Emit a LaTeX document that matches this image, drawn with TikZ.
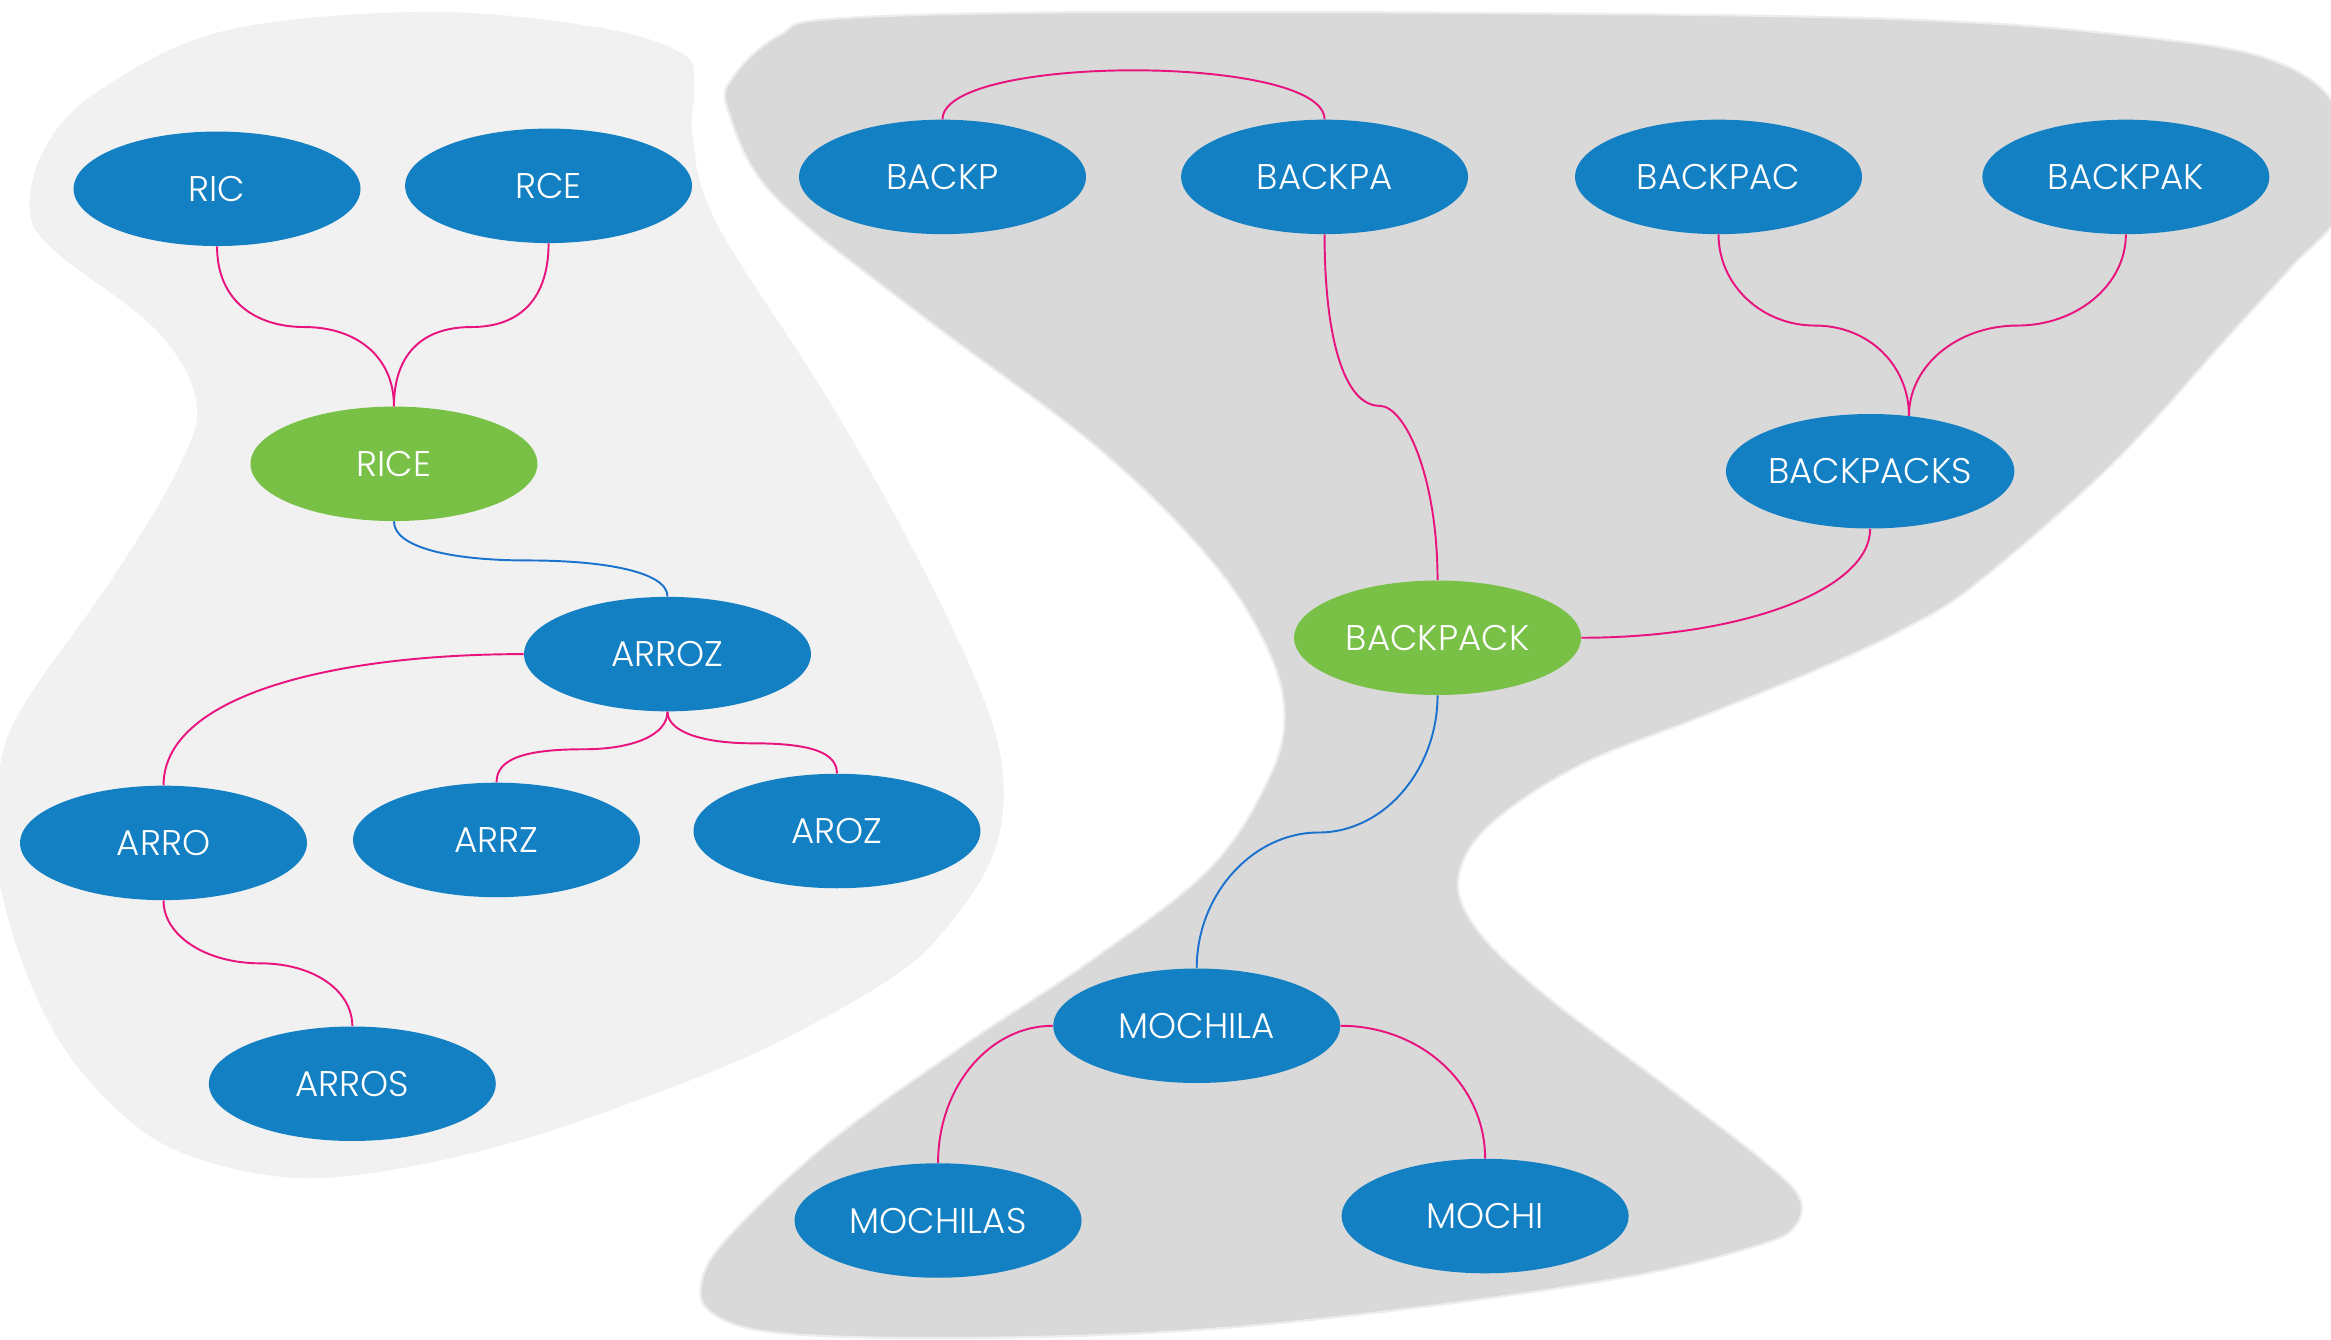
\documentclass[tikz,border=0pt]{standalone}
\usepackage{fontspec}
\newfontfamily\lbl{Poppins Light}
\usetikzlibrary{shapes.geometric}
\definecolor{nodeblue}{HTML}{1380C3}
\definecolor{rootgreen}{HTML}{78C046}
\definecolor{linkpink}{HTML}{E8137F}
\definecolor{linkblue}{HTML}{1A72CF}
\definecolor{paleblob}{HTML}{F1F1F1}
\definecolor{greyblob}{HTML}{D9D9D9}
\definecolor{blobrim}{HTML}{EDEDED}
\tikzset{
  word/.style={ellipse, fill=nodeblue, draw=none, minimum width=193pt,
    minimum height=77pt, inner sep=0pt, text=white,
    font=\lbl\fontsize{24}{28}\selectfont},
  rootword/.style={word, fill=rootgreen},
  link/.style={draw=linkpink, line width=1.3pt},
  tie/.style={draw=linkblue, line width=1.3pt}
}
\begin{document}
\begin{tikzpicture}[x=1pt,y=-1pt]
\useasboundingbox (0,0) rectangle (1568,901);

% background regions
\begin{scope}
\clip (0,0) rectangle (1568,901);
\fill[paleblob] plot[smooth cycle, tension=0.6] coordinates {
  (285,8) (400,18) (459,36) (467,58) (466,92) (482,150) (558,270)
  (617,375) (662,471) (675,527) (668,575) (640,620) (601,657)
  (515,705) (429,740) (343,769) (257,788) (193,792) (129,778)
  (86,753) (43,705) (13,642) (-3,575) (0,515) (18,471) (75,390)
  (120,315) (132,270) (105,222) (36,168) (20,141) (30,100) (65,62)
  (150,21)};
\filldraw[fill=greyblob, draw=blobrim, line width=1.5pt]
  plot[smooth cycle, tension=0.6] coordinates {
  (524,24) (570,12) (800,8) (1250,12) (1450,26) (1537,44) (1575,80)
  (1575,140) (1541,180) (1501,224) (1421,312) (1330,392) (1281,423)
  (1221,451) (1142,483) (1062,515) (1002,555) (981,591) (994,626)
  (1040,670) (1120,730) (1185,780) (1210,805) (1208,824) (1185,837)
  (1100,858) (950,880) (800,895) (650,900) (527,897) (480,884)
  (472,862) (491,831) (557,769) (647,704) (737,644) (813,585)
  (852,527) (864,482) (852,435) (813,375) (737,300) (617,210)
  (521,132) (490,75) (493,52)};
\end{scope}

% rice cluster
\node[word] (ric) at (146,127) {RIC};
\node[word] (rce) at (369,125) {RCE};
\node[rootword] (rice) at (265,312) {RICE};
\node[word] (arroz) at (449,440) {ARROZ};
\node[word] (arro) at (110,567) {ARRO};
\node[word] (arrz) at (334,565) {ARRZ};
\node[word] (aroz) at (563,559) {AROZ};
\node[word] (arros) at (237,729) {ARROS};

% backpack cluster
\node[word] (bp) at (634,119) {BACKP};
\node[word] (bpa) at (891,119) {BACKPA};
\node[word] (bpac) at (1156,119) {BACKPAC};
\node[word] (bpak) at (1430,119) {BACKPAK};
\node[word] (bpks) at (1258,317) {BACKPACKS};
\node[rootword] (bpk) at (967,429) {BACKPACK};
\node[word] (moc) at (805,690) {MOCHILA};
\node[word] (mocs) at (631,821) {MOCHILAS};
\node[word] (mochi) at (999,818) {MOCHI};

% junction points of the branching links
\coordinate (j1) at (205,220);
\coordinate (j2) at (317,220);
\coordinate (j3) at (355,377);
\coordinate (j4) at (393,504);
\coordinate (j5) at (506,500);
\coordinate (j6) at (175,648);
\coordinate (j7) at (928,273);
\coordinate (j8) at (1221,219);
\coordinate (j9) at (1357,219);
\coordinate (j10) at (887,560);

% links
\draw[link] (ric.south) .. controls +(0,36) and +(-34,0) .. (j1)
  .. controls +(34,0) and +(0,-34) .. (rice.north);
\draw[link] (rce.south) .. controls +(0,36) and +(34,0) .. (j2)
  .. controls +(-34,0) and +(0,-34) .. (rice.north);
\draw[tie] (rice.south) .. controls +(0,18) and +(-50,0) .. (j3)
  .. controls +(50,0) and +(0,-17) .. (arroz.north);
\draw[link] (arroz.west) .. controls +(-130,0) and +(0,-60) .. (arro.north);
\draw[link] (arroz.south) .. controls +(0,16) and +(32,0) .. (j4)
  .. controls +(-40,0) and +(0,-16) .. (arrz.north);
\draw[link] (arroz.south) .. controls +(0,14) and +(-32,0) .. (j5)
  .. controls +(40,0) and +(0,-14) .. (aroz.north);
\draw[link] (arro.south) .. controls +(0,24) and +(-36,0) .. (j6)
  .. controls +(36,0) and +(0,-24) .. (arros.north);

\draw[link] (bp.north) .. controls +(0,-44) and +(0,-44) .. (bpa.north);
\draw[link] (bpa.south) .. controls +(0,72) and +(-23,0) .. (j7)
  .. controls +(17,0) and +(0,-70) .. (bpk.north);
\draw[link] (bpac.south) .. controls +(0,34) and +(-36,0) .. (j8)
  .. controls +(36,0) and +(0,-34) .. (bpks.55);
\draw[link] (bpak.south) .. controls +(0,34) and +(40,0) .. (j9)
  .. controls +(-40,0) and +(0,-34) .. (bpks.55);
\draw[link] (bpks.south) .. controls +(0,41) and +(108,0) .. (bpk.east);
\draw[tie] (bpk.south) .. controls +(0,50) and +(44,0) .. (j10)
  .. controls +(-44,0) and +(0,-50) .. (moc.north);
\draw[link] (moc.west) .. controls +(-43,0) and +(0,-51) .. (mocs.north);
\draw[link] (moc.east) .. controls +(54,0) and +(0,-50) .. (mochi.north);
\end{tikzpicture}
\end{document}
